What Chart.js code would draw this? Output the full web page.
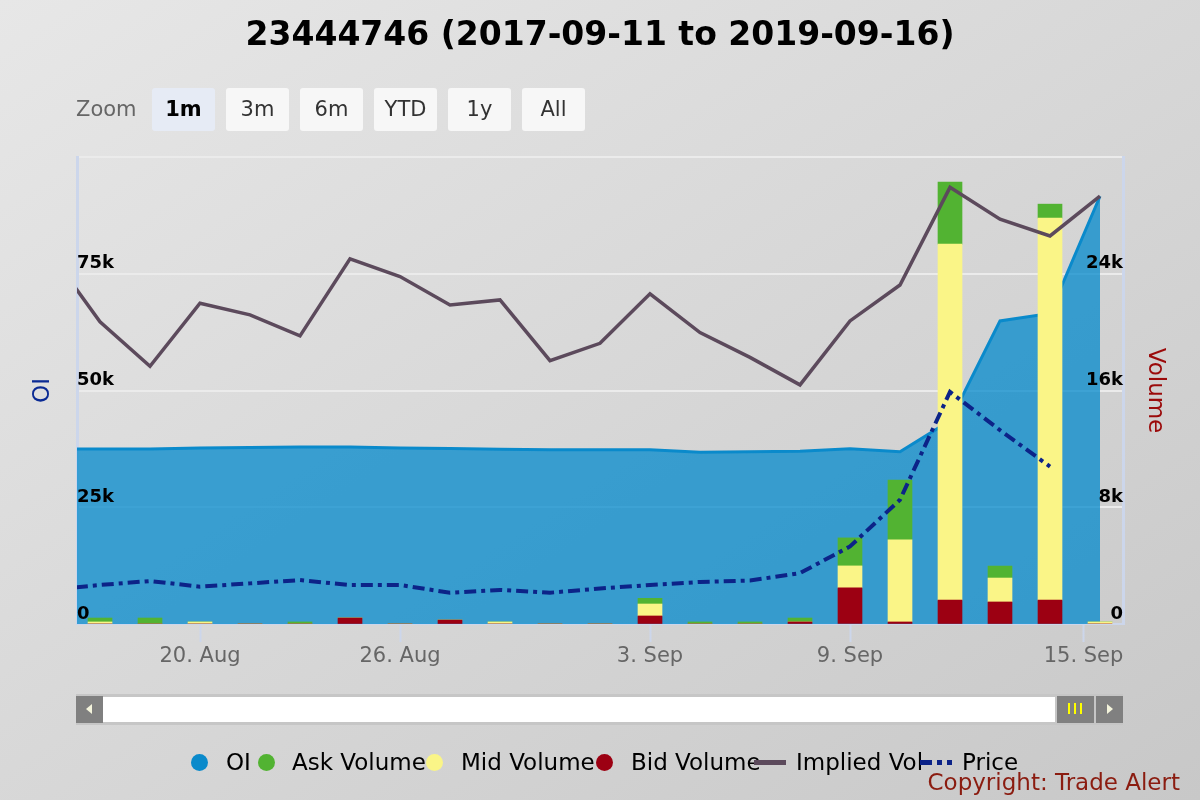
<!DOCTYPE html>
<html>
<head>
<meta charset="utf-8">
<script src="https://cdn.jsdelivr.net/npm/chart.js@4.4.1/dist/chart.umd.min.js"></script>
<style>
  html, body { margin: 0; padding: 0; }
  body {
    width: 1200px; height: 800px; position: relative; overflow: hidden;
    font-family: "DejaVu Sans", sans-serif;
    background: linear-gradient(to bottom right, #e7e7e7, #c8c8c8);
  }
  #c { position: absolute; left: 0; top: 0; }
  .title { position: absolute; left: 0; top: 14px; width: 1200px; text-align: center;
    font-weight: bold; font-size: 33px; line-height: 40px; color: #000; }
  .zoom { position: absolute; left: 76px; top: 88px; line-height: 43px; font-size: 21px; color: #666; }
  .btn { position: absolute; top: 88px; width: 63px; height: 43px; line-height: 43px;
    border-radius: 3px; background: #f7f7f7; color: #333; font-size: 21px; text-align: center; }
  .btn.on { background: #e6ebf5; color: #000; font-weight: bold; }
  .sb { position: absolute; top: 696px; height: 27px; background: #808080; }
  .track { position: absolute; left: 76px; top: 694px; width: 1047px; height: 31px; background: #c6c6c6; }
  .white { position: absolute; left: 103px; top: 697px; width: 952px; height: 25px; background: #fff; }
  .grip { position: absolute; top: 703px; width: 2px; height: 11px; background: #ffff00; }
  .arrow { position: absolute; top: 704px; width: 0; height: 0; border-top: 5px solid transparent; border-bottom: 5px solid transparent; }
  .leg { position: absolute; top: 748px; line-height: 28px; font-size: 23px; color: #000; white-space: nowrap; }
  .dot { position: absolute; top: 754px; width: 17px; height: 17px; border-radius: 50%; }
  .copy { position: absolute; right: 20px; top: 768px; line-height: 28px; font-size: 23px; color: #8b1c10; }
</style>
</head>
<body>
<canvas id="c" width="1200" height="800"></canvas>

<div class="title">23444746 (2017-09-11 to 2019-09-16)</div>
<div class="zoom">Zoom</div>
<div class="btn on" style="left:152px">1m</div>
<div class="btn" style="left:226px">3m</div>
<div class="btn" style="left:300px">6m</div>
<div class="btn" style="left:374px">YTD</div>
<div class="btn" style="left:448px">1y</div>
<div class="btn" style="left:522px">All</div>

<div class="track"></div>
<div class="white"></div>
<div class="sb" style="left:76px;width:27px"></div>
<div class="arrow" style="left:86px;border-right:6px solid #f4f4dc"></div>
<div class="sb" style="left:1057px;width:37px"></div>
<div class="grip" style="left:1068px"></div>
<div class="grip" style="left:1074px"></div>
<div class="grip" style="left:1080px"></div>
<div class="sb" style="left:1096px;width:27px"></div>
<div class="arrow" style="left:1107px;border-left:6px solid #f4f4dc"></div>

<div class="dot" style="left:191px;background:#0a8acb"></div>
<div class="leg" style="left:226px">OI</div>
<div class="dot" style="left:258px;background:#52b332"></div>
<div class="leg" style="left:292px">Ask Volume</div>
<div class="dot" style="left:426px;background:#faf587"></div>
<div class="leg" style="left:461px">Mid Volume</div>
<div class="dot" style="left:596px;background:#9c0012"></div>
<div class="leg" style="left:631px">Bid Volume</div>
<div style="position:absolute;left:754px;top:760px;width:32px;height:5px;background:#5c4a5c"></div>
<div class="leg" style="left:796px">Implied Vol</div>
<div style="position:absolute;left:920px;top:760px;width:32px;height:5px;background:repeating-linear-gradient(to right,#0c2388 0 12px,transparent 12px 17px,#0c2388 17px 22px,transparent 22px 27px)"></div>
<div class="leg" style="left:962px">Price</div>
<div class="copy">Copyright: Trade Alert</div>

<script>
// trading days shown in the 1m window (first one sits just left of the plot)
const tradingDays = ['2019-08-15', '2019-08-16', '2019-08-19', '2019-08-20', '2019-08-21', '2019-08-22',
  '2019-08-23', '2019-08-26', '2019-08-27', '2019-08-28', '2019-08-29', '2019-08-30',
  '2019-09-03', '2019-09-04', '2019-09-05', '2019-09-06', '2019-09-09', '2019-09-10',
  '2019-09-11', '2019-09-12', '2019-09-13', '2019-09-16'];

const oi = [37500, 37500, 37500, 37700, 37800, 37900, 37900, 37700, 37600, 37400, 37300, 37300,
  37300, 36800, 36900, 37000, 37500, 36900, 43500, 64900, 66500, 91600];
const bidVol = [0, 0, 0, 0, 0, 0, 410, 0, 270, 0, 0, 0, 550, 0, 0, 140, 2470, 140, 1640, 1510, 1640, 0];
const midVol = [0, 140, 0, 140, 0, 0, 0, 0, 0, 140, 0, 0, 820, 0, 0, 0, 1510, 5620, 24390, 1640, 26170, 140];
const askVol = [0, 270, 410, 0, 0, 140, 0, 0, 0, 0, 0, 0, 390, 140, 140, 270, 1920, 4110, 4250, 820, 960, 0];
const impliedVol = [79.5, 64.7, 55.2, 68.7, 66.2, 61.7, 78.2, 74.4, 68.3, 69.4, 56.4, 60.1,
  70.7, 62.4, 57.1, 51.2, 64.9, 72.6, 93.5, 86.7, 83.1, 91.6];
const price = [1.46, 1.67, 1.84, 1.60, 1.74, 1.88, 1.67, 1.67, 1.34, 1.46, 1.34, 1.52,
  1.67, 1.80, 1.86, 2.18, 3.32, 5.32, 9.94, 8.30, 6.74, null];

// ordinal x axis: one slot per trading day
const tickPositions = [2, 6, 11, 15, 19.67];
const tickLabels = ['20. Aug', '26. Aug', '3. Sep', '9. Sep', '15. Sep'];

const pos = tradingDays.map((d, i) => i - 1);
const pts = arr => arr.map((v, i) => ({ x: pos[i], y: v }));
const kFmt = v => v === 0 ? '0' : (v / 1000) + 'k';

const yLabelFont = { family: 'DejaVu Sans', size: 18, weight: 'bold' };
const gridColor = c => c.tick && c.tick.value === 0 ? 'rgba(0,0,0,0)' : '#ebebeb';

const ctx = document.getElementById('c').getContext('2d');
new Chart(ctx, {
  type: 'bar',
  data: {
    datasets: [
      { type: 'line', label: 'Price', data: pts(price), yAxisID: 'yPrice', order: 0,
        borderColor: '#0c2388', borderWidth: 4, borderDash: [12, 5, 4, 5], pointRadius: 0, fill: false },
      { type: 'line', label: 'Implied Vol', data: pts(impliedVol), yAxisID: 'yIv', order: 1,
        borderColor: '#5c4a5c', borderWidth: 3.5, pointRadius: 0, fill: false },
      { label: 'Bid Volume', data: pts(bidVol), yAxisID: 'yVol', order: 2, backgroundColor: '#9c0012', barThickness: 24 },
      { label: 'Mid Volume', data: pts(midVol), yAxisID: 'yVol', order: 2, backgroundColor: '#faf587', barThickness: 24 },
      { label: 'Ask Volume', data: pts(askVol), yAxisID: 'yVol', order: 2, backgroundColor: '#52b332', barThickness: 24 },
      { type: 'line', label: 'OI', data: pts(oi), yAxisID: 'yOi', order: 3,
        borderColor: '#0a8acb', borderWidth: 3, backgroundColor: 'rgba(0,136,204,0.74)',
        fill: 'origin', pointRadius: 0 }
    ]
  },
  options: {
    responsive: false,
    animation: false,
    layout: { padding: { top: 157, left: 0, right: 0, bottom: 0 } },
    plugins: { legend: { display: false }, tooltip: { enabled: false } },
    scales: {
      x: {
        type: 'linear', min: -0.46, max: 20.46, offset: false, stacked: true,
        afterBuildTicks: s => { s.ticks = tickPositions.map(v => ({ value: v })); },
        afterFit: s => { s.height = 176; },
        ticks: { autoSkip: false, maxRotation: 0, padding: 2, color: '#666',
          font: { family: 'DejaVu Sans', size: 21 }, callback: (v, i) => tickLabels[i] },
        grid: { drawOnChartArea: false, offset: false, tickLength: 18, tickWidth: 2, tickColor: '#ccd6eb' },
        border: { color: '#ccd6eb', width: 2 }
      },
      yOi: {
        position: 'left', min: 0, max: 100000,
        afterFit: s => { s.width = 77; },
        ticks: { z: 1, stepSize: 25000, mirror: true, padding: 0, labelOffset: -10, color: '#000', font: yLabelFont,
          callback: v => v === 100000 ? '' : kFmt(v) },
        grid: { color: gridColor, lineWidth: 2, drawTicks: false },
        border: { color: '#ccd6eb', width: 3 },
        title: { display: true, text: 'OI', color: '#0a2a94', font: { family: 'DejaVu Sans', size: 23 }, padding: { top: 29 } }
      },
      yVol: {
        position: 'right', min: 0, max: 32000, stacked: true,
        afterFit: s => { s.width = 77; },
        ticks: { z: 1, stepSize: 8000, mirror: true, padding: 0, labelOffset: -10, color: '#000', font: yLabelFont,
          callback: v => v === 32000 ? '' : kFmt(v) },
        grid: { drawOnChartArea: false, drawTicks: false },
        border: { color: '#ccd6eb', width: 3 },
        title: { display: true, text: 'Volume', color: '#9b0a0a', font: { family: 'DejaVu Sans', size: 23 }, padding: { top: 31 } }
      },
      yIv: { display: false, min: 0, max: 100 },
      yPrice: { display: false, min: 0, max: 20 }
    }
  }
});
</script>
</body>
</html>
